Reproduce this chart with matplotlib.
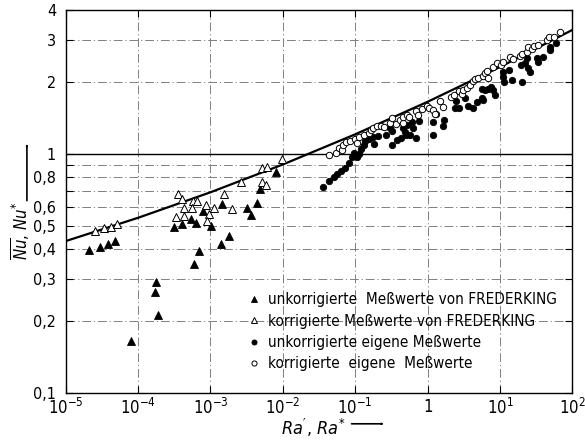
import matplotlib
matplotlib.use("Agg")
import matplotlib.pyplot as plt
from matplotlib.patches import FancyArrowPatch
from matplotlib.ticker import FixedLocator, FixedFormatter, NullFormatter

plt.rcParams['font.family'] = ['DejaVu Sans']
plt.rcParams['font.stretch'] = 'condensed'
plt.rcParams['mathtext.fontset'] = 'custom'
plt.rcParams['mathtext.rm'] = 'DejaVu Sans:stretch=condensed'
plt.rcParams['mathtext.it'] = 'DejaVu Sans:style=oblique:stretch=condensed'

# FREDERKING, uncorrected measurements
fred_unk_ra = [2.12e-5, 2.96e-5, 3.80e-5, 4.87e-5, 7.98e-5, 1.74e-4, 1.73e-4, 1.87e-4,
               3.13e-4, 4.00e-4, 5.43e-4, 6.21e-4, 5.92e-4, 7.00e-4, 8.00e-4, 1.02e-3,
               1.40e-3, 1.78e-3, 1.44e-3, 3.24e-3, 3.57e-3, 4.35e-3, 4.86e-3, 8.03e-3]
fred_unk_nu = [0.396, 0.407, 0.420, 0.434, 0.164, 0.290, 0.264, 0.212,
               0.493, 0.508, 0.536, 0.516, 0.345, 0.394, 0.576, 0.498,
               0.420, 0.454, 0.619, 0.593, 0.554, 0.623, 0.712, 0.838]

# FREDERKING, corrected measurements
fred_kor_ra = [2.58e-5, 3.41e-5, 4.29e-5, 5.11e-5, 3.59e-4, 4.08e-4, 5.68e-4, 6.61e-4,
               3.34e-4, 4.24e-4, 4.31e-4, 5.50e-4, 8.67e-4, 1.12e-3, 9.63e-4, 8.86e-4,
               1.55e-3, 2.01e-3, 2.60e-3, 5.14e-3, 6.12e-3, 5.22e-3, 5.84e-3, 9.87e-3]
fred_kor_nu = [0.477, 0.488, 0.497, 0.509, 0.680, 0.646, 0.637, 0.636,
               0.546, 0.592, 0.553, 0.594, 0.614, 0.596, 0.563, 0.526,
               0.683, 0.587, 0.767, 0.871, 0.880, 0.762, 0.740, 0.957]

# own measurements, uncorrected
own_unk_ra = [0.0361, 0.0437, 0.0508, 0.0564, 0.0628, 0.0721, 0.0826, 0.0900, 0.0960, 0.1045,
              0.1136, 0.120, 0.132, 0.138, 0.153, 0.179, 0.176, 0.207, 0.263, 0.317,
              0.298, 0.317, 0.377, 0.428, 0.454, 0.484, 0.511, 0.503, 0.575, 0.613,
              0.625, 0.696, 0.756, 1.195, 1.302, 1.172, 1.611, 1.680, 2.383, 2.733,
              2.460, 3.275, 3.637, 4.183, 4.752, 5.570, 5.570, 6.185, 6.871, 5.86,
              8.05, 8.50, 7.41, 10.86, 10.86, 11.32, 13.40, 14.46, 19.87, 19.25,
              22.07, 23.75, 24.52, 25.88, 32.03, 33.70, 39.51, 48.90, 48.90, 59.17]
own_unk_nu = [0.725, 0.771, 0.799, 0.824, 0.846, 0.874, 0.914, 0.971, 1.007, 0.971,
              1.000, 1.049, 1.091, 1.137, 1.161, 1.101, 1.184, 1.190, 1.205, 1.087,
              1.285, 1.245, 1.150, 1.167, 1.285, 1.240, 1.323, 1.207, 1.201, 1.366,
              1.289, 1.170, 1.375, 1.366, 1.467, 1.201, 1.314, 1.388, 1.554, 1.563,
              1.663, 1.721, 1.594, 1.554, 1.656, 1.711, 1.884, 1.854, 1.884, 1.684,
              1.854, 1.767, 1.914, 2.212, 2.108, 2.009, 2.248, 2.042, 2.009, 2.360,
              2.399, 2.517, 2.286, 2.212, 2.517, 2.436, 2.556, 2.815, 2.728, 2.910]

# own measurements, corrected
own_kor_ra = [0.0437, 0.0541, 0.0601, 0.0661, 0.0670, 0.0744, 0.0845, 0.100, 0.1045, 0.1135,
              0.134, 0.157, 0.165, 0.178, 0.198, 0.224, 0.249, 0.302, 0.318, 0.365,
              0.414, 0.460, 0.460, 0.513, 0.557, 0.689, 0.742, 0.826, 0.968, 1.052,
              1.195, 1.274, 1.479, 1.642, 2.098, 2.308, 2.733, 3.025, 3.102, 3.49,
              3.84, 4.18, 4.50, 5.00, 5.81, 6.19, 6.66, 6.87, 8.05, 8.97,
              10.19, 10.86, 13.92, 15.07, 18.83, 20.39, 23.30, 24.68, 27.58, 29.11,
              33.92, 44.02, 48.12, 55.0, 67.8]
own_kor_nu = [0.990, 1.013, 1.060, 1.044, 1.096, 1.123, 1.139, 1.152, 1.117, 1.182,
              1.201, 1.224, 1.260, 1.281, 1.310, 1.310, 1.304, 1.345, 1.411, 1.342,
              1.395, 1.349, 1.433, 1.464, 1.433, 1.514, 1.457, 1.543, 1.589, 1.558,
              1.529, 1.471, 1.675, 1.578, 1.733, 1.767, 1.845, 1.784, 1.854, 1.890,
              1.945, 2.022, 2.062, 2.092, 2.132, 2.184, 2.237, 2.092, 2.321, 2.413,
              2.360, 2.436, 2.556, 2.493, 2.573, 2.636, 2.688, 2.820, 2.761, 2.834,
              2.875, 3.003, 3.112, 3.100, 3.244]

# correlation curve
fit_ra = [1e-5, 1e-4, 1e-3, 1e-2, 1e-1, 1.0, 10.0, 100.0]
fit_nu = [0.432, 0.541, 0.692, 0.905, 1.211, 1.658, 2.319, 3.318]

legend_labels = ["unkorrigierte  Meßwerte von FREDERKING",
                 "korrigierte Meßwerte von FREDERKING",
                 "unkorrigierte eigene Meßwerte",
                 "korrigierte  eigene  Meßwerte"]

x_ticks = [1e-5, 1e-4, 1e-3, 1e-2, 1e-1, 1.0, 10.0, 100.0]
x_ticklabels = [r"$10^{-5}$", r"$10^{-4}$", r"$10^{-3}$", r"$10^{-2}$", r"$10^{-1}$",
                "1", r"$10^{1}$", r"$10^{2}$"]
y_ticks = [0.1, 0.2, 0.3, 0.4, 0.5, 0.6, 0.8, 1, 2, 3, 4]
y_ticklabels = ["0,1", "0,2", "0,3", "0,4", "0,5", "0,6", "0,8", "1", "2", "3", "4"]
y_minor = [0.7, 0.9]
x_grid = [1e-4, 1e-3, 1e-2, 1e-1, 1.0, 10.0]
y_grid = [0.2, 0.3, 0.4, 0.5, 0.6, 0.7, 0.8, 0.9, 2, 3]

fig = plt.figure(figsize=(5.85, 4.41), dpi=100)
ax = fig.add_axes([0.1123, 0.1095, 0.8663, 0.8667])
ax.set_xscale('log')
ax.set_yscale('log')
ax.set_xlim(1e-5, 1e2)
ax.set_ylim(0.1, 4)

grid_style = dict(color='0.5', lw=0.7, ls=(0, (9, 3, 1.2, 3)), zorder=1)
for gx in x_grid:
    ax.axvline(gx, **grid_style)
for gy in y_grid:
    ax.axhline(gy, **grid_style)
ax.axhline(1.0, color='k', lw=1.0, zorder=2)

ax.plot(fit_ra, fit_nu, color='k', lw=1.6, zorder=3)

ms_tri = 5.2
ms_circ = 4.6
h1, = ax.plot(fred_unk_ra, fred_unk_nu, ls='none', marker='^', ms=ms_tri,
              mfc='k', mec='k', mew=0.6, zorder=4)
h2, = ax.plot(fred_kor_ra, fred_kor_nu, ls='none', marker='^', ms=ms_tri,
              mfc='white', mec='k', mew=0.7, zorder=4)
h3, = ax.plot(own_unk_ra, own_unk_nu, ls='none', marker='o', ms=ms_circ,
              mfc='k', mec='k', mew=0.6, zorder=4)
h4, = ax.plot(own_kor_ra, own_kor_nu, ls='none', marker='o', ms=ms_circ,
              mfc='white', mec='k', mew=0.7, zorder=5)

ax.xaxis.set_major_locator(FixedLocator(x_ticks))
ax.xaxis.set_major_formatter(FixedFormatter(x_ticklabels))
ax.xaxis.set_minor_locator(FixedLocator([]))
ax.xaxis.set_minor_formatter(NullFormatter())
ax.yaxis.set_major_locator(FixedLocator(y_ticks))
ax.yaxis.set_major_formatter(FixedFormatter(y_ticklabels))
ax.yaxis.set_minor_locator(FixedLocator(y_minor))
ax.yaxis.set_minor_formatter(NullFormatter())

ax.tick_params(which='both', direction='in', top=True, right=True, length=5,
               width=0.8, labelsize=12)
ax.tick_params(axis='y', which='both', pad=7, labelsize=11.5)
ax.tick_params(axis='x', which='both', pad=4)
for s in ax.spines.values():
    s.set_linewidth(1.0)

leg = ax.legend([h1, h2, h3, h4], legend_labels, loc='upper left',
                bbox_to_anchor=(0.363, 0.263), frameon=False, fontsize=11,
                handlelength=0.6, handletextpad=0.6, labelspacing=0.42,
                borderpad=0, borderaxespad=0, markerscale=0.8)

# axis labels with direction arrows
fig.text(0.035, 0.478, r"$\overline{\mathit{Nu}}$, $\mathit{Nu}^{*}$", rotation=90,
         ha='center', va='center', fontsize=12)
fig.text(0.536, 0.030, r"$\mathit{Ra}'$, $\mathit{Ra}^{*}$", ha='center', va='center',
         fontsize=13)
arrow = dict(arrowstyle='-|>,head_length=0.8,head_width=0.25', color='k', lw=1.2,
             shrinkA=0, shrinkB=0)
fig.add_artist(FancyArrowPatch((0.046, 0.545), (0.046, 0.676),
                               transform=fig.transFigure, **arrow))
fig.add_artist(FancyArrowPatch((0.601, 0.039), (0.658, 0.039),
                               transform=fig.transFigure, **arrow))

fig.savefig("out.png", dpi=100)
